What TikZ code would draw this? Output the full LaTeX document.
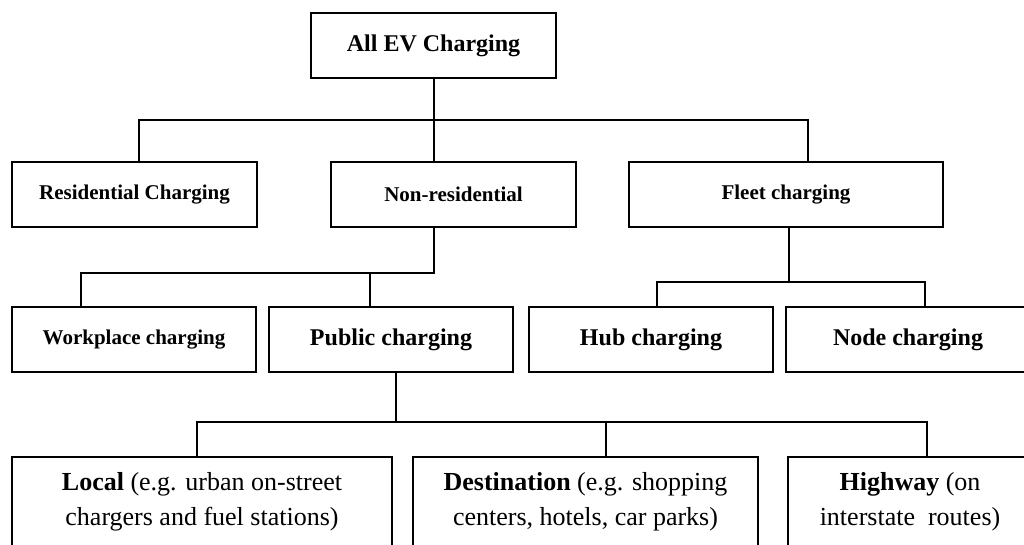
\documentclass[tikz,border=0pt]{standalone}
\usepackage{fontspec}
\setmainfont{Liberation Serif}
\begin{document}
\begin{tikzpicture}[x=1pt,y=-1pt,
  box/.style={draw,line width=1.5pt,inner sep=0pt,align=center,minimum height=65pt},
  bigf/.style={font=\fontsize{24}{28}\selectfont\bfseries},
  smallf/.style={font=\fontsize{21}{25}\selectfont\bfseries},
  botf/.style={font=\fontsize{26}{35}\selectfont,minimum height=90pt},
  conn/.style={line width=1.5pt}]
\useasboundingbox (0,0) rectangle (1024,544);
\clip (0,0) rectangle (1024,544);
\node[box,bigf,minimum width=245pt] (all) at (433.5,45.5) {All EV Charging};
\node[box,smallf,minimum width=245pt] (res) at (134.5,194.5) {Residential Charging};
\node[box,smallf,minimum width=245pt] (non) at (453.5,194.5) {Non-residential};
\node[box,smallf,minimum width=314pt] (fleet) at (786,194.5) {Fleet charging};
\node[box,smallf,minimum width=244pt] (work) at (134,339.5) {Workplace charging};
\node[box,bigf,minimum width=244pt] (pub) at (391,339.5) {Public charging};
\node[box,bigf,minimum width=244pt] (hub) at (651,339.5) {Hub charging};
\node[box,bigf,minimum width=244pt] (nodec) at (908,339.5) {Node charging};
\node[box,botf,minimum width=380pt] (local) at (202,502) {\textbf{Local} (e.g. urban on-street\\chargers and fuel stations)};
\node[box,botf,minimum width=345pt] (dest) at (585.5,502) {\textbf{Destination} (e.g. shopping\\centers, hotels, car parks)};
\node[box,botf,minimum width=244pt] (high) at (910,502) {\textbf{Highway} (on\\interstate\ \ routes)};
% level 1
\draw[conn] (all.south -| 434,0) -- (434,120);
\draw[conn] (res.north -| 139,0) -- (139,120) -- (808,120) -- (fleet.north -| 808,0);
\draw[conn] (non.north -| 434,0) -- (434,120);
% non-residential
\draw[conn] (non.south -| 434,0) -- (434,273) -- (81,273) -- (work.north -| 81,0);
\draw[conn] (pub.north -| 370,0) -- (370,273);
% fleet
\draw[conn] (fleet.south -| 789,0) -- (789,282);
\draw[conn] (hub.north -| 657,0) -- (657,282) -- (925,282) -- (nodec.north -| 925,0);
% public
\draw[conn] (pub.south -| 396,0) -- (396,422);
\draw[conn] (local.north -| 197,0) -- (197,422) -- (927,422) -- (high.north -| 927,0);
\draw[conn] (dest.north -| 606,0) -- (606,422);
\end{tikzpicture}
\end{document}
